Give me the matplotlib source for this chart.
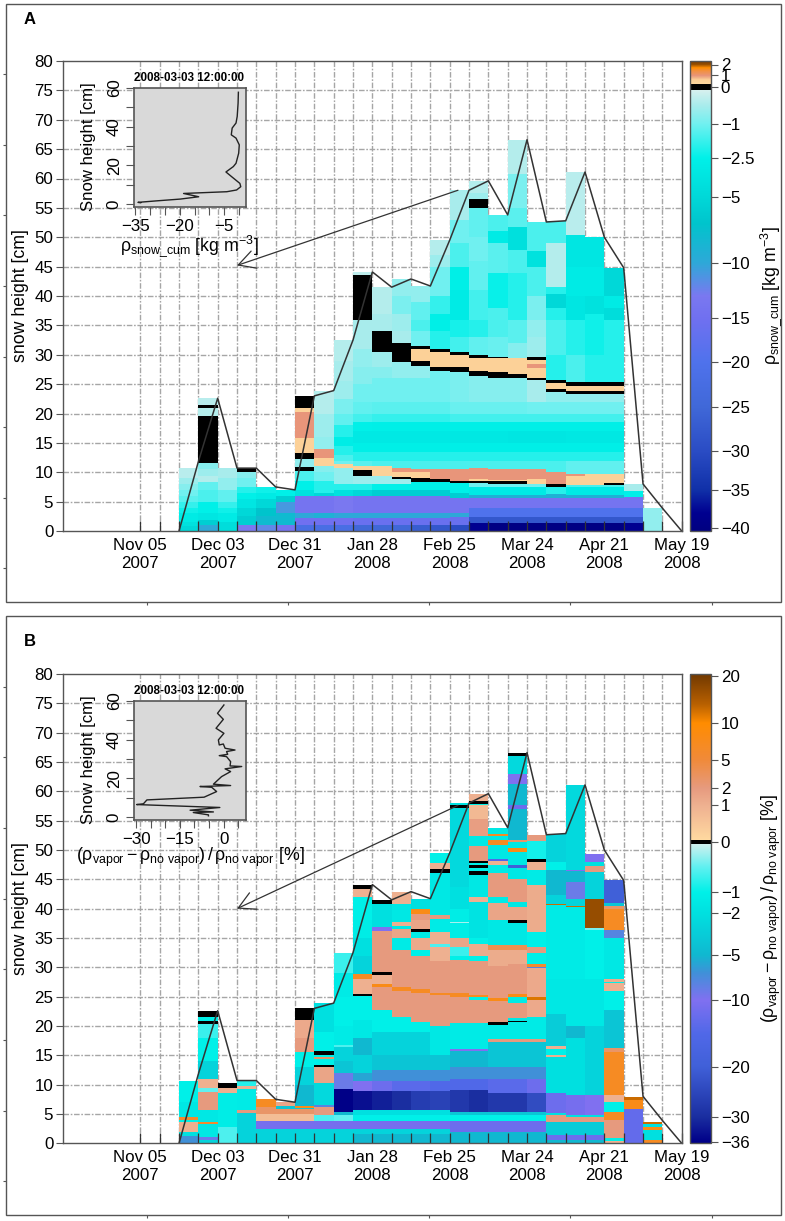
import numpy as np
import pandas as pd
import matplotlib
matplotlib.use('Agg')
import matplotlib.pyplot as plt
import matplotlib.colors as mcolors
import matplotlib.cm as cm
import matplotlib.dates as mdates
from matplotlib.patches import Rectangle

plt.rcParams['font.family'] = ['Liberation Sans', 'DejaVu Sans']
plt.rcParams['mathtext.fontset'] = 'custom'
plt.rcParams['mathtext.rm'] = 'Liberation Sans'
plt.rcParams['mathtext.it'] = 'Liberation Sans'
plt.rcParams['mathtext.bf'] = 'Liberation Sans:bold'

# ---- data ----
week_dates = pd.date_range('2007-11-19', '2008-05-19', freq='7D')
snow_line = [0, 11.8, 22.6, 10.7, 10.7, 7.5, 7.0, 23.0, 23.9, 32.5, 44.1, 41.5, 42.9, 41.7,
             49.5, 58.0, 59.6, 53.8, 66.6, 52.6, 52.8, 61.1, 50.0, 44.8, 8.0, 3.9, 0]

# panel A: (band top [cm], rho_snow_cum)
A01 = [(.8,-5),(1.5,-4),(3,-3),(4,-2.3),(5,-1.8),(6,-1.3),(7,-1),(8,-.8),(9,-.6),(10.7,-.35)]
A02 = [(1,-10),(1.8,-6),(3,-3.5),(5,-2.5),(7,-1.5),(8.3,-1.2),(9.4,-.4),(10.5,-.6),(11.6,-.8),(19.6,0),(21,-.4),(21.4,0),(22.6,-.35)]
A03 = [(1.5,-4.5),(3,-3),(4,-2.3),(5,-1.8),(7,-1.2),(9,-.7),(10.7,-.5)]
A04 = [(1,-13),(2.5,-6),(4,-5),(5.5,-3.5),(6.5,-2.5),(7.5,-2),(9,-1),(10.1,-.8),(10.7,0)]
A05 = [(1,-12),(2.5,-8),(4,-7),(5.5,-5),(6.5,-3),(7.5,-2.3)]
A06 = [(1,-14),(3,-8),(5,-11),(6,-6),(7,-2.5)]
A07 = [(1,-22),(2.2,-15),(3,-10),(6,-14),(7,-4),(8.5,-2.5),(10.2,-1.5),(10.9,0),(12.2,-.7),(13.2,0),(15.9,.5),(20.2,.95),(21,.5),(23,0)]
A08 = [(1,-22),(2.2,-15),(3,-9),(6,-14),(6.5,-5),(8.5,-2),(10,-1),(11,-.8),(12.5,.5),(14,.95),(16,-.7),(20,-.6),(23.9,-.4)]
A09 = [(1,-22),(2.2,-15),(3,-10),(6,-13),(7,-4),(8,-2),(10.7,-.7),(11.4,.5),(12,-1),(13,-1.5),(14.5,-2),(16,-2.8),(18,-2),(20,-1.2),(22.5,-.9),(25.5,-.6),(29,-.5),(32.5,-.4)]
A10 = [(1,-25),(2.2,-16),(3,-10),(6,-14),(7,-5),(8,-2),(9.4,-.6),(10.3,0),(11,.5),(12,-1.3),(13.5,-2),(15,-2.6),(17,-3.2),(18.5,-2.5),(20,-1.6),(22,-1.2),(25,-1),(28,-.8),(31,-.7),(36,-.5),(43.5,0),(44.1,-.3)]
A11 = [(1,-25),(2.2,-16),(3,-10),(6,-14),(7,-6),(8,-2.5),(9.4,-.6),(11,.5),(12,-1.5),(13.5,-2),(15,-2.6),(17,-3.2),(18.5,-2.6),(20,-1.8),(22,-1.3),(26,-1),(28,-.8),(30.5,-.6),(34,0),(37,-.5),(41.5,-.4)]
A12 = [(1,-25),(2.2,-16),(3,-10),(6,-14),(7,-6),(8,-2.5),(8.8,-.6),(9.2,0),(10,.5),(10.8,.95),(12,-1.5),(13.5,-2),(15,-2.6),(17,-3.2),(18.5,-2.6),(20,-1.8),(22,-1.3),(26,-1),(28.7,-.7),(32,0),(34,-.5),(37,-.6),(40,-.9),(42.9,-.7)]
A13 = [(1,-27),(2.2,-16),(3,-10),(6,-14),(7,-6),(8.3,-2.5),(9,0),(10,.5),(10.6,.95),(12,-1.5),(13.5,-2),(15,-2.6),(17,-3.2),(18.5,-2.6),(20,-1.8),(22,-1.3),(26,-1),(28.1,-.7),(29,0),(31,.5),(31.5,0),(34,-1),(36,-1.5),(39,-1.2),(41.7,-.7)]
A14 = [(1,-28),(2.2,-16),(3,-10),(6,-14),(7,-6),(8.4,-2.5),(8.8,0),(10.5,.95),(12,-1.5),(13.5,-2),(15,-2.6),(17,-3.2),(18.5,-2.6),(20,-1.8),(22,-1.3),(27.3,-1),(28,0),(30.4,.5),(31,0),(34,-2),(37,-2.6),(40,-1.8),(45,-1),(47,-.6),(49.5,-.4)]
A15 = [(1.1,-30),(2.3,-16),(3,-10),(5.7,-14),(6.5,-6),(8.2,-2.5),(8.5,0),(10.5,.95),(12,-1.5),(13.5,-2),(15,-2.6),(17,-3.3),(18.5,-2.6),(20,-1.6),(22,-1.1),(27,-.9),(28,0),(30,.5),(30.4,0),(33,-1.6),(36,-2.2),(41,-3),(45,-2.6),(49,-1.5),(53,-1),(58,-.5)]
A16 = [(1.3,-38),(2.4,-28),(3.9,-20),(5.6,-14),(6.1,-9),(7.5,-3),(8.2,-1),(8.5,0),(8.8,.5),(10.7,.95),(12,-1.5),(13.5,-2),(15,-2.6),(17,-3.3),(18.5,-2.6),(20,-1.6),(22,-1.1),(26.3,-.8),(27.3,0),(29.5,.5),(30,0),(33,-1.2),(36,-2),(41,-1.6),(46,-1.2),(50,-1),(55,-1.2),(56.5,0),(57.5,-.6),(59.6,-.4)]
A17 = [(1.3,-40),(2.4,-28),(3.9,-20),(5.6,-14),(6.1,-9),(7.5,-3),(8,-1),(8.5,0),(8.7,.5),(10.5,.95),(12,-1.5),(13.5,-2),(15,-2.6),(17,-3.3),(18.5,-2.6),(20,-1.6),(22,-1.1),(26,-.8),(27,0),(29.4,.5),(29.7,0),(33,-1.1),(38,-1.5),(44,-2.4),(49,-1.3),(51,-3),(53.8,-1.5)]
A18 = [(1.3,-40),(2.4,-28),(3.9,-20),(5.6,-14),(6.1,-9),(7.5,-3),(8,-1),(8.5,0),(8.7,.5),(10.5,.95),(12,-1.5),(13.5,-2),(15,-2.6),(17,-3.5),(18.5,-2.6),(20,-1.6),(22,-1.1),(26,-.8),(26.7,0),(29.5,.5),(32,-.8),(36,-1.3),(44,-2),(47.8,-1.5),(51.8,-4.2),(55,-1.3),(60.8,-.9),(66.6,-.4)]
A19 = [(1.3,-40),(2.4,-28),(3.9,-20),(5.6,-14),(6.1,-9),(7.5,-3),(8,-1),(8.8,.5),(10.5,.95),(12,-1.5),(13.5,-2),(15,-2.6),(17,-3.5),(18.5,-2.6),(20,-1.6),(22,-1),(25.7,-.5),(26.1,0),(27.8,.5),(28.5,.95),(29.1,.5),(29.7,0),(33,-.6),(36,-.7),(40,-.9),(45,-1.5),(47.7,-4),(52.6,-1.5)]
A20 = [(1.3,-40),(2.4,-28),(3.9,-20),(5.6,-14),(6.3,-9),(7.5,-2),(8,0),(10,.95),(12,-1.5),(13.5,-2),(15,-2.6),(17,-3.5),(18.5,-2.6),(20,-1.6),(22,-1),(23.7,-.7),(24.1,0),(25.2,.5),(25.7,0),(30,-2),(36,-1.5),(38,-2),(40.3,-5),(41.5,-2),(49,-.4),(52.8,-1.5)]
A21 = [(1.3,-40),(2.4,-28),(3.9,-20),(5.6,-14),(6.1,-9),(7.5,-3),(7.9,-1.5),(9.3,.5),(9.7,.95),(12,-1.2),(13.5,-2),(15,-2.6),(17,-3.3),(18.5,-2.6),(20,-1.6),(22,-1),(23.3,-.7),(23.9,0),(24.7,.5),(25.3,0),(30,-1.5),(36,-2),(40,-3.5),(45,-3),(50.3,-3.5),(61.1,-.35)]
A22 = [(1.3,-40),(2.4,-28),(3.9,-20),(5.6,-14),(6.1,-9),(7.5,-3),(7.9,-1.5),(9.7,.5),(12,-1.2),(13.5,-2),(15,-2.6),(17,-3.3),(18.5,-2.6),(20,-1.6),(22,-1),(23.3,-.7),(23.9,0),(24.7,.5),(25.3,0),(30,-2),(37,-2.3),(40,-4),(45,-3),(50,-3.5)]
A23 = [(1.3,-40),(2.4,-28),(3.9,-20),(5.6,-14),(6.1,-9),(7.5,-3),(7.9,-1.5),(8.2,0),(9.7,.5),(12,-1.2),(13.5,-2),(15,-2.6),(17,-3.3),(18.5,-2.6),(20,-1.6),(22,-1),(23.3,-.7),(23.9,0),(24.7,.5),(25.3,0),(30,-2),(36,-2),(38,-4.5),(40,-3),(44.8,-5)]
A24 = [(1.3,-38),(2.4,-28),(3.9,-20),(5.8,-14),(6.8,-2.5),(8,-.5)]
A25 = [(3.9,-.7)]

# panel B: (band top [cm], relative density difference [%])
B01 = [(1.2,-7),(2,-2),(3.6,1),(4,-1),(4.5,6),(7,-1.5),(10.7,-1)]
B02 = [(.5,-3),(1,-9),(3.3,-1.5),(3.7,6),(5.6,-1.5),(8.7,2),(9.5,-.5),(11,1),(14,-3),(18,-1),(20.3,-.7),(20.9,0),(21.5,-1),(22.6,0)]
B03 = [(2.8,-.6),(8.5,-1.2),(9.5,1),(10.2,0)]
B04 = [(5.2,-3),(5.6,2),(9.3,-1.3),(9.7,1),(10.7,-.8)]
B05 = [(2.5,-3),(3.8,-11),(5,.7),(6.2,3),(7.5,7)]
B06 = [(2.5,-3),(3.8,-11),(5,.7),(5.9,3),(6.4,-4),(7,1.5)]
B07 = [(2.5,-3),(3.8,-11),(5,.7),(5.8,3),(6,-4),(6.4,8),(10,-5),(13,-3),(15.6,-1),(18,2),(21,1.3),(23,0)]
B08 = [(2.5,-3),(3.8,-11),(4.8,-.6),(6.2,2),(6.5,-8),(10.2,-2.5),(13,1.5),(13.4,0),(14.3,-1),(14.7,3),(15.1,-1),(15.7,0),(19,-1),(23.9,-2)]
B09 = [(2.5,-3),(3.8,-11),(4.8,-.5),(5.3,-5),(9.3,-36),(11.9,-9),(14,-4),(16.5,-3),(16.8,-.6),(20,-1.3),(25,-1),(29,-1.3),(32.5,-.7)]
B10 = [(1.6,-5),(2.5,-3),(3.8,-11),(4.8,-1),(5.6,-2),(9,-34),(10.7,-10),(12,-6),(15,-3),(18,-5),(21,-1.5),(25.1,-1),(25.5,0),(28,1),(28.8,7),(32,-3),(35,-2),(38,-1.2),(42,-1),(43.4,1),(44.1,0)]
B11 = [(1.6,-5),(2.5,-3),(3.8,-11),(4.8,-1),(5.6,-2),(9,-32),(10.7,-12),(12.5,-7),(15,-4),(19,-3),(22.7,-1),(26.6,2),(27.2,8),(28.7,1),(29.2,0),(36.2,2),(36.8,-10),(40.8,-2),(41.5,0)]
B12 = [(1.6,-5),(2.5,-3),(3.8,-11),(4.8,-1),(5.6,-2),(9,-30),(10.7,-14),(12.5,-7),(15,-4),(19,-3),(21.5,-1),(26,2),(26.6,7),(33,2),(35,-1.3),(36.5,1.5),(37,-1.3),(37.7,1),(40.8,-1.5),(42.9,1)]
B13 = [(1.6,-5),(2.5,-3),(3.8,-11),(4.8,-1),(5.6,-2),(9,-27),(10.7,-14),(12.5,-7),(15,-4),(19,-3),(20.7,-1),(25.6,2),(26.3,7),(32,2),(33,-1),(35,1.3),(36,-1.3),(36.6,0),(38,1.5),(39.1,2),(39.9,8),(41.7,-2)]
B14 = [(1.6,-5),(2.5,-3),(3.8,-11),(4.8,-1),(5.6,-2),(9,-26),(10.7,-15),(12.5,-7),(15,-4),(20,-1.5),(25.3,2),(25.7,7),(31.1,2),(33.5,1),(34,-.6),(36,1),(38.3,-1.3),(38.9,2),(46,-1.5),(46.7,0),(47.7,1),(49.5,-1)]
B15 = [(2,-5),(3.8,-12),(4.8,-1),(5.4,-4),(9.1,-28),(11,-15),(13,-7),(15.7,-5),(16,-10),(20.5,-1.3),(25,2),(25.7,7),(31.3,2),(32,-1),(33.5,-.7),(35,1.5),(37.5,-1.2),(37.8,-.2),(40,-1.2),(43.7,-2),(57.2,-2.5),(57.7,0),(58,-2)]
B16 = [(2,-5),(3.8,-12),(4.8,-1),(5.4,-4),(9.1,-30),(11,-15),(13,-7),(15.7,-5),(16,-10),(20.5,-1.3),(24.4,2),(25,-1),(25.3,7),(31,2),(32,-1),(34,1.2),(35,-1),(41.2,-1.8),(42,1),(45.7,-1.5),(46.5,0),(47,-1),(47.4,0),(47.7,-1),(48.2,0),(50.6,2),(52.4,-1.5),(55.2,1.8),(57.6,.8),(57.9,-1),(58.3,0),(59.6,1)]
B17 = [(2,-5),(3.8,-12),(4.8,-1),(5.4,-4),(8.5,-28),(11,-14),(13,-7),(17.2,-4),(17.7,2),(20.2,-1.3),(20.6,0),(24.2,2),(24.7,8),(30.3,2),(33,1.2),(33.8,4),(38,-1.5),(41,1.5),(42,-1.3),(46,2),(47.5,-1.3),(48.1,1),(48.4,-15),(50.9,-1.5),(51.7,7),(52.3,-1.5),(52.7,7),(53.8,-1.5)]
B18 = [(2,-5),(3.8,-12),(4.8,-1),(5.4,-4),(8.5,-28),(11,-14),(13,-7),(17.2,-4),(17.7,2),(20.6,-1.3),(20.9,0),(21.3,-1.5),(24,2),(25,-1.3),(25.5,8),(30.5,2),(33,1.2),(33.8,4),(37.6,-1.5),(38,0),(40.3,1.5),(41.2,-1.5),(45,2),(47,-1.5),(47.4,-20),(49.7,-1.5),(50.4,8),(51.3,-1.5),(51.7,3),(57,-5),(57.7,-12),(61.2,-5),(63,-10),(66,-2.5),(66.6,0)]
B19 = [(2,-5),(3.8,-12),(4.8,-1),(5.4,-4),(8.5,-24),(11,-12),(13,-7),(17.2,-4),(17.7,2),(21.6,-1.3),(24.4,1.3),(25,12),(29.8,1.3),(30.1,-8),(30.6,6),(32.5,-1),(33.5,2),(36,-1),(44,1.2),(46.6,-1.3),(48,1),(48.5,0),(51.5,-.9),(52.6,2)]
B20 = [(.6,-5),(1.4,-12),(3.7,-3.5),(4.8,2),(5.1,-2),(8.5,-12),(14.7,-2),(15,1),(16,-1),(16.6,1),(22,-3.5),(28,-1.5),(40.6,-1.3),(40.8,13),(42.3,-3),(46.6,-5),(48,-1),(52.8,-3)]
B21 = [(.6,-5),(1.4,-12),(3.7,-3.5),(4.5,2),(4.8,-2),(8.2,-11),(18,-2),(20,-5),(28,-1.5),(40.3,-1.3),(40.5,13),(41.7,-3),(44.6,-9),(46.4,-5),(46.6,-10),(61.1,-2.5)]
B22 = [(.6,-5),(1.4,-12),(3.7,-3.5),(4.5,2),(4.8,-2),(8.2,-10),(20,-3),(28,-1.5),(36.3,-1),(36.7,-.4),(41.6,17),(46.3,-3),(47.2,2),(48,-2),(49.3,-10)]
B23 = [(.4,1),(.9,-1),(4,2),(5.4,7),(7.1,-1),(8.2,1),(15.5,7),(16.2,3),(22.7,-4),(26,-1),(27.3,1),(27.5,-1),(28,1.2),(35,-1.5),(36.4,-8),(40,7),(40.5,3),(41,-4),(44.8,-20)]
B24 = [(5.8,-13),(7.4,8),(7.9,13)]
B25 = [(.5,7),(2.2,-2),(2.7,8),(3.3,-2),(3.7,13)]

# inset profiles on 2008-03-03 12:00
inset_a_val = [-.2,-.3,-.6,-1,-2.3,-2.6,-1,.1,-.1,-1,-1.9,-4.4,-2.5,.3,.6,-.8,-4.1,-18.7,-13.6,-19.8,-27.6,-34.1,-33.2]
inset_a_h = [57.8,52.2,45.3,41.9,39.3,35.8,34.1,30.6,26.3,21.1,19.4,16.6,14.2,10.7,9,7.3,6.4,5.5,3.8,2.6,1.7,.9,.7]
inset_b_val = [.1,-2.1,-.1,-2.6,.1,-1.8,-1.5,-.1,.5,3.9,1,1.4,-1.5,1,2.4,2.2,6.2,.5,2.4,-.7,-3.5,2.4,-8.1,-4.1,-2.4,-6.7,-26.3,-27.5,-29.8,-1.3,-11.5,-3.5,-10.4,-5.2,-5.2]
inset_b_h = [57.8,53.5,50.4,45.8,43.2,39.8,37.2,37.7,35.5,34.6,33.8,32.4,31.7,31.2,28.6,26.4,26.1,24.9,23.5,20.9,17,16.3,15.8,15.4,13.2,10.3,8.9,6.9,6.5,5,3.6,2.7,2.4,1.2,.7]

# colour scales: value -> position (bottom to top)
a_scale_val = [-40.4,-40,-35,-30,-25,-20,-15,-10,-5,-2.5,-1,0,1,2,2.4]
a_scale_pos = [531,528,490,451,407,362,318,263,197,158,124,86.7,75,64.5,61]
a_col_val = [-40.4,-38,-35,-30,-25,-20,-15,-13,-10,-7,-5,-2.5,-1,-.5,-.08,-.08,.2,.2,.6,.95,1.4,1.7,2,2.4]
a_col_hex = ['#000080','#000090','#1030a8','#2a4cc4','#4068d8','#4f72ec','#7070f0','#7a78f0','#2ea8d8','#00c4cc','#00d8d8','#00f0e8','#70f0f0','#a8ecec','#d8f0ee','#000000','#000000','#ffd9a0','#fbcf96','#e8957a','#f29040','#ff8c00','#9a5000','#703800']
b_scale_val = [-36.4,-36,-30,-20,-10,-5,-2,-1,0,1,2,5,10,20,20.5]
b_scale_pos = [1143.3,1141.7,1116.7,1066.7,1000,955,913,892,842,805,788,760,723,676,674]
b_col_val = [-36.4,-36,-30,-20,-15,-10,-7,-5,-2,-1,-.5,-.04,-.04,.06,.06,1,2,5,10,14,20.5]
b_col_hex = ['#000080','#000088','#1a2ea0','#4060d8','#5068e8','#8070f0','#4090d8','#10b8d0','#00e0e0','#00f0e8','#60f0f0','#d0f0ee','#000000','#000000','#ffd9a0','#eeb090','#e69a7e','#f08a3a','#ff8c00','#b86000','#703800']

ticks_a = [2,1,0,-1,-2.5,-5,-10,-15,-20,-25,-30,-35,-40]
tick_labels_a = ['2','1','0','\u22121','\u22122.5','\u22125','\u221210','\u221215','\u221220','\u221225','\u221230','\u221235','\u221240']
ticks_b = [20,10,5,2,1,0,-1,-2,-5,-10,-20,-30,-36]
tick_labels_b = ['20','10','5','2','1','0','\u22121','\u22122','\u22125','\u221210','\u221220','\u221230','\u221236']
label_dates = ['2007-11-05','2007-12-03','2007-12-31','2008-01-28','2008-02-25','2008-03-24','2008-04-21','2008-05-19']
tick_text = ['Nov 05\n2007','Dec 03\n2007','Dec 31\n2007','Jan 28\n2008','Feb 25\n2008','Mar 24\n2008','Apr 21\n2008','May 19\n2008']

cols_a = [A01,A02,A03,A04,A05,A06,A07,A08,A09,A10,A11,A12,A13,A14,A15,A16,A17,A18,A19,A20,A21,A22,A23,A24,A25]
cols_b = [B01,B02,B03,B04,B05,B06,B07,B08,B09,B10,B11,B12,B13,B14,B15,B16,B17,B18,B19,B20,B21,B22,B23,B24,B25]

# ---- figure ----
W, H = 785, 1221
FS = 12.2
LBL = 12.8
DARK = '#555555'
fig = plt.figure(figsize=(W/100, H/100), dpi=100, facecolor='white')


def rect(l, t, r, b):
    return [l/W, 1-b/H, (r-l)/W, (b-t)/H]


def make_norm(vals, pos):
    vals = np.array(vals, float)
    p = (pos[0]-np.array(pos, float))/(pos[0]-pos[-1])
    return mcolors.FuncNorm((lambda v: np.interp(v, vals, p), lambda q: np.interp(q, p, vals)),
                            vmin=vals[0], vmax=vals[-1])


def make_cmap(norm, vals, hexes):
    pos = [float(norm(v)) for v in vals]
    pos[0], pos[-1] = 0.0, 1.0
    return mcolors.LinearSegmentedColormap.from_list('c', list(zip(pos, hexes)), N=4096)


# outer frames
bg = fig.add_axes([0, 0, 1, 1], zorder=-5)
bg.set_xlim(0, W); bg.set_ylim(H, 0); bg.axis('off')
for top, bot, lefts, bottoms in [(3.5, 601.5, [74, 145, 215, 286, 357, 427, 498, 568], [147, 288, 429, 570, 712]),
                                 (616, 1215, [687, 757, 828, 899, 969, 1040, 1111, 1181], [147, 288, 429, 570, 712])]:
    bg.add_patch(Rectangle((6, top), 775, bot-top, fill=False, ec=DARK, lw=1))
    bg.hlines(lefts, 3, 6, color=DARK, lw=.8)
    bg.vlines(bottoms, bot, bot+3, color=DARK, lw=.8)


def panel(top, bottom, cols, letter, letter_y, svals, spos, cvals, chex, ticks, labels, cb_label,
          ival, ih, ileft_top, ixlim, iylim, ixticks, ixlabels, ititle_y, ixlabel, ixlabel_xy,
          arrow_tail, arrow_tip):
    ax = fig.add_axes(rect(63, top, 681.7, bottom))
    ax.set_xlim(mdates.date2num(pd.Timestamp('2007-10-08')), mdates.date2num(pd.Timestamp('2008-05-19')))
    ax.set_ylim(0, 80)
    grid_x = mdates.date2num(pd.date_range('2007-11-05', '2008-05-12', freq='7D'))
    style = dict(color='#a6a6a6', lw=1, linestyles=[(0, (4, 1.2, 1.2, 1.2))], zorder=.5)
    ax.vlines(grid_x, 0, 80, **style)
    ax.hlines(np.arange(5, 80, 5), *ax.get_xlim(), **style)

    norm = make_norm(svals, spos)
    cmap = make_cmap(norm, cvals, chex)
    xnum = mdates.date2num(week_dates)
    for i, col in enumerate(cols):
        low = 0
        for up, val in col:
            ax.bar(xnum[i], up-low, bottom=low, width=7, align='edge', color=cmap(norm(val)),
                   linewidth=0, antialiased=False, zorder=1)
            low = up
    ax.plot(xnum, snow_line, color='#333333', lw=1.1, zorder=2)
    ax.annotate('', xy=(mdates.date2num(pd.Timestamp(arrow_tip[0])), arrow_tip[1]),
                xytext=(mdates.date2num(pd.Timestamp(arrow_tail[0])), arrow_tail[1]),
                arrowprops=dict(arrowstyle='->,head_length=1.2,head_width=.65', mutation_scale=10,
                                color='#333333', lw=.9, shrinkA=0, shrinkB=0), zorder=3)

    ax.set_yticks(np.arange(0, 85, 5))
    ax.tick_params(axis='y', direction='out', length=5, width=.8, color=DARK, labelsize=FS, pad=2)
    ax.set_xticks(mdates.date2num(pd.to_datetime(label_dates)))
    ax.set_xticklabels(tick_text, fontsize=FS, linespacing=1.22)
    ax.set_xticks(grid_x, minor=True)
    ax.tick_params(axis='x', which='both', direction='in', length=7, width=.9, color='#333333', pad=5)
    for s in ax.spines.values():
        s.set_color(DARK); s.set_linewidth(1)
    fig.text(21/W, 1-(top+bottom)/2/H, 'snow height [cm]', rotation=90, ha='center', va='center', fontsize=LBL)
    fig.text(30/W, 1-letter_y/H, letter, ha='center', va='center', fontsize=12, fontweight='bold')

    cax = fig.add_axes(rect(690, top, 711, bottom))
    cb = fig.colorbar(cm.ScalarMappable(norm=norm, cmap=cmap), cax=cax, ticks=ticks)
    cb.set_ticklabels(labels)
    cb.ax.minorticks_off()
    cb.ax.tick_params(length=5, width=.8, color=DARK, labelsize=FS, pad=2)
    cb.outline.set_edgecolor(DARK); cb.outline.set_linewidth(1)
    fig.text(771/W, 1-(top+bottom)/2/H, cb_label, rotation=90, ha='center', va='center', fontsize=LBL)

    # inset
    iax = fig.add_axes(rect(133.5, ileft_top, 245.5, ileft_top+119.2), facecolor='#d9d9d9', zorder=4)
    iax.plot(ival, ih, color='#222222', lw=1)
    iax.set_xlim(*ixlim); iax.set_ylim(*iylim)
    iax.set_xticks(ixticks)
    iax.set_xticklabels(ixlabels, fontsize=FS)
    iax.set_yticks(np.arange(0, 70, 10))
    iax.set_yticklabels(['0', '', '20', '', '40', '', '60'], fontsize=FS, rotation=90, va='center')
    iax.tick_params(axis='both', direction='out', length=6, width=.8, color=DARK, pad=2.5)
    for s in iax.spines.values():
        s.set_color(DARK); s.set_linewidth(1.2)
    iax.patch.set_zorder(0)
    fig.text(189/W, 1-ititle_y/H, '2008-03-03 12:00:00', ha='center', va='center', fontsize=8.4, fontweight='bold', zorder=6)
    fig.text(88.5/W, 1-(ileft_top+59)/H, 'Snow height [cm]', rotation=90, ha='center', va='center', fontsize=LBL-.7, zorder=6)
    fig.text(ixlabel_xy[0]/W, 1-ixlabel_xy[1]/H, ixlabel, ha='center', va='center', fontsize=LBL, zorder=6)


panel(61, 531, cols_a, 'A', 20, a_scale_val, a_scale_pos, a_col_val, a_col_hex, ticks_a, tick_labels_a,
      r'$\rho_{\mathrm{snow\_cum}}$ [kg m$^{-3}$]',
      inset_a_val, inset_a_h, 88, (-35.6, 2.2), (-1.6, 60), np.arange(-35, 5, 5),
      ['\u221235', '', '', '\u221220', '', '', '\u22125', ''], 78, r'$\rho_{\mathrm{snow\_cum}}$ [kg m$^{-3}$]', (189, 246),
      ('2008-02-28', 58.0), ('2007-12-10', 45.2))
panel(674, 1143.3, cols_b, 'B', 642, b_scale_val, b_scale_pos, b_col_val, b_col_hex, ticks_b, tick_labels_b,
      r'$(\rho_{\mathrm{vapor}}-\rho_{\mathrm{no\ vapor}})\,/\,\rho_{\mathrm{no\ vapor}}$ [%]',
      inset_b_val, inset_b_h, 700.7, (-30.9, 7.5), (-1.4, 60), np.arange(-30, 10, 5),
      ['\u221230', '', '', '\u221215', '', '', '0', ''], 691, r'$(\rho_{\mathrm{vapor}}-\rho_{\mathrm{no\ vapor}})\,/\,\rho_{\mathrm{no\ vapor}}$ [%]', (190, 857),
      ('2008-02-28', 57.6), ('2007-12-10', 40.0))

fig.savefig('out.png', dpi=100)
